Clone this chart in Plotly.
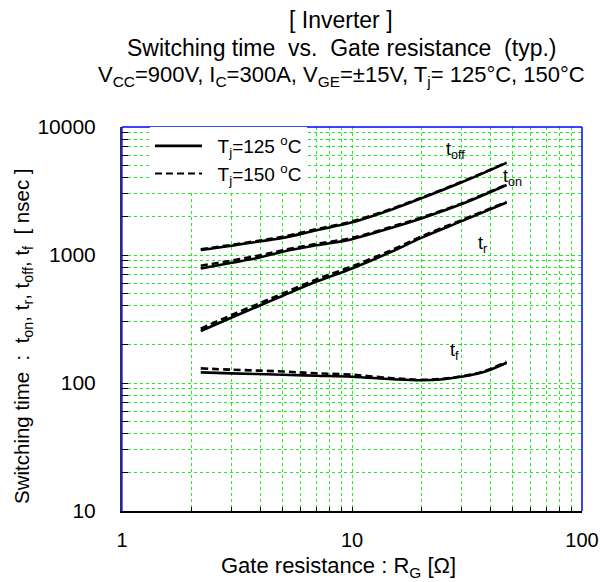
import math
import plotly.graph_objects as go

# ---- data ----
rg = [2.2, 3, 4, 5, 7, 10, 15, 20, 30, 47]
toff_125 = [1094, 1180, 1280, 1360, 1560, 1800, 2280, 2770, 3700, 5250]
toff_150 = [1110, 1200, 1300, 1390, 1590, 1830, 2310, 2800, 3730, 5280]
ton_125 = [785, 870, 960, 1060, 1190, 1330, 1640, 1930, 2500, 3520]
ton_150 = [825, 905, 995, 1090, 1220, 1360, 1670, 1960, 2530, 3550]
tr_125 = [255, 325, 405, 480, 620, 785, 1070, 1360, 1840, 2570]
tr_150 = [266, 340, 422, 500, 645, 815, 1100, 1395, 1875, 2600]

rg_f = [2.2, 3, 5, 7, 10, 15, 20, 25, 30, 35, 40, 47]
tf_125 = [121, 119, 116, 114, 112, 107, 105, 107, 112, 118, 127, 144]
tf_150 = [130, 127, 123, 119, 116, 109, 106, 108, 113, 119, 129, 147]

legend_names = ["\u00a0\u00a0T<sub>j</sub>=125 <sup>o</sup>C", "\u00a0\u00a0T<sub>j</sub>=150 <sup>o</sup>C"]

curve_labels = ["t<sub>off</sub>", "t<sub>on</sub>", "t<sub>r</sub>", "t<sub>f</sub>"]
label_x = [28.3, 50, 37, 28]
label_y = [6500, 4000, 1200, 175]

x_tickvals = [m * 10 ** d for d in range(0, 2) for m in range(1, 10)] + [100]
x_ticktext = [str(v) if v in (1, 10, 100) else "" for v in x_tickvals]
y_tickvals = [m * 10 ** d for d in range(1, 4) for m in range(1, 10)] + [10000]
y_ticktext = [str(v) if v in (10, 100, 1000, 10000) else "" for v in y_tickvals]
x_decades = [10]
y_decades = [100, 1000]

FONT = "Liberation Sans, Arial, sans-serif"
W, H = 600, 582
M_L, M_T = 122, 127
M_R = W - M_L - 460
M_B = H - M_T - 384
pw, ph = W - M_L - M_R, H - M_T - M_B


def px2paper(px, py):
    return (px - M_L) / pw, 1 - (py - M_T) / ph


fig = go.Figure()

DASH = "7px,4px"
series = [
    (rg, toff_125, toff_150),
    (rg, ton_125, ton_150),
    (rg, tr_125, tr_150),
    (rg_f, tf_125, tf_150),
]
for i, (xs, y125, y150) in enumerate(series):
    fig.add_trace(go.Scatter(
        x=xs, y=y150, mode="lines",
        line=dict(color="black", width=2.6, dash=DASH, shape="spline", smoothing=1.0),
        name=legend_names[1], showlegend=False, legendrank=2))
    fig.add_trace(go.Scatter(
        x=xs, y=y125, mode="lines",
        line=dict(color="black", width=2.6, shape="spline", smoothing=1.0),
        name=legend_names[0], showlegend=(i == 0), legendrank=1))

# legend-only dashed entry
fig.add_trace(go.Scatter(
    x=[None], y=[None], mode="lines", line=dict(color="black", width=2, dash=DASH),
    name=legend_names[1], showlegend=True, legendrank=2))

for txt, lx, ly in zip(curve_labels, label_x, label_y):
    fig.add_annotation(x=math.log10(lx), y=math.log10(ly), xref="x", yref="y", text=txt,
                       showarrow=False, font=dict(size=18, color="black", family=FONT),
                       xanchor="center", yanchor="middle")

title_lines = [
    "[ Inverter ]",
    "Switching time  vs.  Gate resistance  (typ.)",
    "V<sub>CC</sub>=900V, I<sub>C</sub>=300A, V<sub>GE</sub>=±15V, T<sub>j</sub>= 125°C, 150°C",
]
title_y = [20, 48, 76]
title_size = [23, 23, 22]
for t, ty, ts in zip(title_lines, title_y, title_size):
    ax, ay = px2paper(341, ty)
    fig.add_annotation(x=ax, y=ay, xref="paper", yref="paper", text=t, showarrow=False,
                       xanchor="center", yanchor="middle",
                       font=dict(size=ts, color="black", family=FONT))

# axis titles
ax, ay = px2paper(338, 567)
fig.add_annotation(x=ax, y=ay, xref="paper", yref="paper",
                   text="Gate resistance : R<sub>G</sub> [Ω]", showarrow=False,
                   xanchor="center", yanchor="middle",
                   font=dict(size=22, color="black", family=FONT))
ax, ay = px2paper(23, 336)
fig.add_annotation(x=ax, y=ay, xref="paper", yref="paper", textangle=-90,
                   text="Switching time  :  t<sub>on</sub>, t<sub>r</sub>, t<sub>off</sub>, t<sub>f</sub>  [ nsec ]",
                   showarrow=False, xanchor="center", yanchor="middle",
                   font=dict(size=20.5, color="black", family=FONT))

lx, _ = px2paper(150, 0)
fig.update_layout(
    width=W, height=H,
    margin=dict(l=M_L, r=M_R, t=M_T, b=M_B, pad=0, autoexpand=False),
    paper_bgcolor="white", plot_bgcolor="white",
    font=dict(family=FONT, size=20, color="black"),
    showlegend=True,
    legend=dict(x=lx, y=1.0, xanchor="left", yanchor="top",
                bgcolor="white", borderwidth=0, font=dict(size=19, family=FONT),
                tracegroupgap=0, itemwidth=47),
)

GREEN = "#22ee22"
fig.update_xaxes(
    type="log", range=[0, 2], automargin=False,
    tickmode="array", tickvals=x_tickvals, ticktext=x_ticktext,
    showgrid=True, gridcolor=GREEN, griddash="dot", gridwidth=1,
    ticks="inside", ticklen=4, tickcolor="black", tickwidth=1,
    showline=True, linecolor="black", linewidth=1.5, mirror=False,
    tickfont=dict(size=20, family=FONT), ticklabelstandoff=10,
    zeroline=False,
)
fig.update_yaxes(
    type="log", range=[1, 4], automargin=False,
    tickmode="array", tickvals=y_tickvals, ticktext=y_ticktext,
    showgrid=True, gridcolor=GREEN, griddash="dot", gridwidth=1,
    ticks="inside", ticklen=6, tickcolor="black", tickwidth=1,
    showline=True, linecolor="#2a2a70", linewidth=2, mirror=False,
    tickfont=dict(size=21, family=FONT), ticklabelstandoff=20,
    zeroline=False,
)

# decade grid lines (blue)
for xv in x_decades:
    fig.add_shape(type="line", xref="x", yref="paper", x0=math.log10(xv), x1=math.log10(xv),
                  y0=0, y1=1, layer="below", line=dict(color="#0000ff", width=1.2))
for yv in y_decades:
    fig.add_shape(type="line", xref="paper", yref="y", x0=0, x1=1,
                  y0=math.log10(yv), y1=math.log10(yv), layer="below",
                  line=dict(color="#0000ff", width=1.2))

# top and right borders (blue)
fig.add_shape(type="line", xref="paper", yref="paper", x0=0, x1=1, y0=1, y1=1,
              line=dict(color="#0000ff", width=1.5))
fig.add_shape(type="line", xref="paper", yref="paper", x0=1, x1=1, y0=0, y1=1,
              line=dict(color="#0000ff", width=1.5))

fig.write_html("out.html",
               config={"displayModeBar": False},
               post_script="document.body.style.margin='0';document.body.style.overflow='hidden';")
